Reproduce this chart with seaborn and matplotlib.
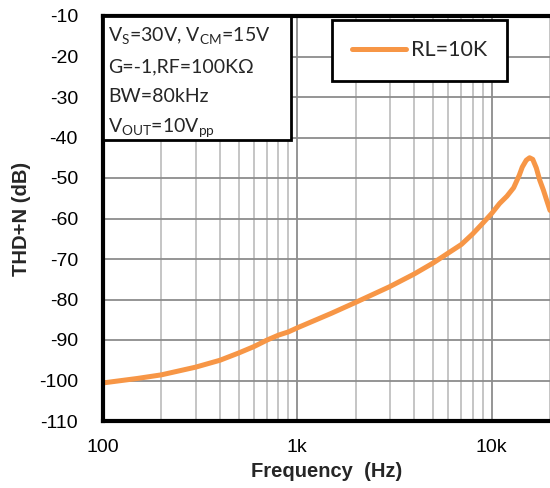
import numpy as np
import pandas as pd
import matplotlib
matplotlib.use("Agg")
import matplotlib.pyplot as plt
from matplotlib.patches import Rectangle
from matplotlib.ticker import FixedLocator, FixedFormatter, LogLocator, NullFormatter
import seaborn as sns

# ---- data ----
freq_hz = [100, 150, 200, 300, 400, 500, 600, 700, 800, 900, 1000, 1500, 2000,
           3000, 4000, 5000, 6000, 7000, 8000, 9000, 10000, 11000, 12000, 13000,
           13900, 14400, 15100, 15700, 16300, 17000, 17700, 18500, 19200, 20000]
thdn_db = [-100.6, -99.5, -98.6, -96.7, -95.0, -93.2, -91.6, -90.0, -88.8, -88.0,
           -87.0, -83.4, -80.7, -76.8, -73.7, -71.0, -68.5, -66.4, -63.8, -61.2,
           -58.8, -56.3, -54.5, -52.4, -49.3, -47.3, -45.6, -45.0, -45.4, -47.5,
           -50.5, -53.0, -55.4, -58.0]
series_label = "RL=10K"
x_ticks = [100, 1000, 10000]
x_tick_labels = ["100", "1k", "10k"]
y_ticks = [-10, -20, -30, -40, -50, -60, -70, -80, -90, -100, -110]
cond_lines = [r"$\mathregular{V_S}$=30V, $\mathregular{V_{CM}}$=15V",
              "G=-1,RF=100KΩ",
              "BW=80kHz",
              r"$\mathregular{V_{OUT}}$=10$\mathregular{V_{pp}}$"]

df = pd.DataFrame({"Frequency": freq_hz, "THD+N": thdn_db, "Load": series_label})

sns.set_theme(style="white")
plt.rcParams["font.family"] = ["Liberation Sans", "DejaVu Sans"]
plt.rcParams["mathtext.fontset"] = "custom"
plt.rcParams["mathtext.rm"] = "Lato"

fig = plt.figure(figsize=(5.5, 4.88), dpi=100)
ax = fig.add_axes([103 / 550, 1 - 421 / 488, 447 / 550, 405 / 488])

sns.lineplot(data=df, x="Frequency", y="THD+N", hue="Load", palette=["#F79646"],
             linewidth=3.6, ax=ax, legend=False, zorder=5)

ax.set_xscale("log")
ax.set_xlim(100, 20000)
ax.set_ylim(-110, -10)

ax.xaxis.set_major_locator(FixedLocator(x_ticks))
ax.xaxis.set_major_formatter(FixedFormatter(x_tick_labels))
ax.xaxis.set_minor_locator(LogLocator(base=10, subs=np.arange(2, 10)))
ax.xaxis.set_minor_formatter(NullFormatter())
ax.set_yticks(y_ticks)
ax.set_yticklabels([str(v) for v in y_ticks])

ax.grid(True, which="major", axis="y", color="#8C8C8C", linewidth=1.3)
ax.grid(True, which="major", axis="x", color="#8C8C8C", linewidth=1.3)
ax.grid(True, which="minor", axis="x", color="#C0C0C0", linewidth=1.3)
ax.set_axisbelow(True)

ax.tick_params(axis="both", which="both", length=0, labelsize=14, colors="black")
ax.tick_params(axis="x", pad=13)
ax.tick_params(axis="y", pad=18)

for side in ["left", "bottom", "top"]:
    ax.spines[side].set_color("black")
    ax.spines[side].set_linewidth(3)
    ax.spines[side].set_zorder(6)
ax.spines["right"].set_visible(False)

ax.set_xlabel("Frequency  (Hz)", fontsize=14.5, fontweight="bold", labelpad=4)
ax.set_ylabel("THD+N (dB)", fontsize=14.5, fontweight="bold", labelpad=6)

# conditions box
bx = Rectangle((0, 0.694), 0.421, 0.306, transform=ax.transAxes, facecolor="white",
               edgecolor="black", linewidth=2, zorder=7, clip_on=False)
ax.add_patch(bx)
line_y = [36, 67, 97, 128]
for txt, yp in zip(cond_lines, line_y):
    ax.text(5 / 447, (421 - yp) / 405, txt, transform=ax.transAxes, fontsize=14,
            family=["Lato", "DejaVu Sans"], va="center", ha="left", zorder=8)

# legend
handle = plt.Line2D([], [], color="#F79646", linewidth=3.6, solid_capstyle="round")
leg = ax.legend([handle], [series_label], loc="upper left",
                bbox_to_anchor=(229 / 447, 401 / 405), fancybox=False,
                frameon=True, framealpha=1, edgecolor="black",
                prop={"family": ["Lato", "DejaVu Sans"], "size": 15.5},
                handlelength=2.5, handletextpad=0.2, borderpad=0.95,
                borderaxespad=0.0)
leg.get_frame().set_linewidth(2)
leg.set_zorder(8)

fig.savefig("out.png", dpi=100)
